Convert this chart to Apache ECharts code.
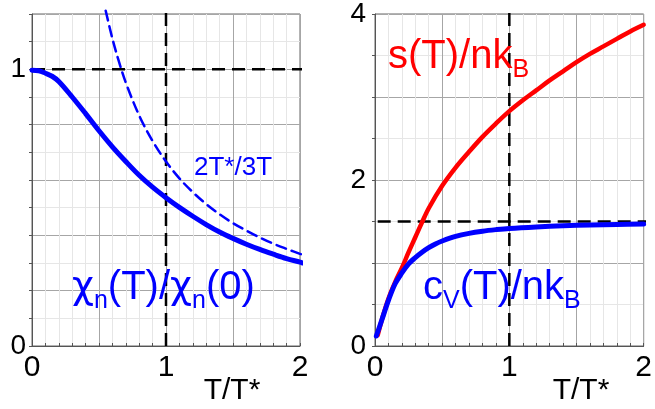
<!DOCTYPE html>
<html>
<head>
<meta charset="utf-8">
<script src="https://cdn.jsdelivr.net/npm/echarts@6/dist/echarts.min.js"></script>
<style>
  html, body { margin: 0; padding: 0; background: #fff; }
  #chart { width: 655px; height: 409px; }
</style>
</head>
<body>
<div id="chart"></div>
<script>
// Reduced temperature T/T* and the normalised susceptibility chi_n(T)/chi_n(0)
const chiT = [0, 0.05, 0.1, 0.15, 0.2, 0.3, 0.4, 0.5, 0.6, 0.7, 0.8, 0.9, 1.0, 1.1, 1.2, 1.3, 1.4, 1.5, 1.6, 1.7, 1.8, 1.9, 2.0, 2.02];
const chiV = [0.997, 0.995, 0.986, 0.975, 0.956, 0.9, 0.84, 0.778, 0.72, 0.667, 0.617, 0.574, 0.536, 0.501, 0.469, 0.439, 0.412, 0.389, 0.368, 0.349, 0.332, 0.316, 0.303, 0.300];

// High-temperature Curie tail 2T*/3T
const curieT = [0.55, 0.6, 0.65, 0.7, 0.8, 0.9, 1.0, 1.1, 1.2, 1.3, 1.4, 1.5, 1.6, 1.7, 1.8, 1.9, 2.0, 2.02];
const curieV = [1.212, 1.111, 1.026, 0.952, 0.833, 0.741, 0.667, 0.606, 0.556, 0.513, 0.476, 0.444, 0.417, 0.392, 0.370, 0.351, 0.333, 0.330];

// Entropy per particle s(T)/nk_B
const entT = [0.02, 0.05, 0.1, 0.15, 0.2, 0.25, 0.3, 0.35, 0.4, 0.5, 0.6, 0.7, 0.8, 0.9, 1.0, 1.1, 1.2, 1.3, 1.4, 1.5, 1.6, 1.7, 1.8, 1.9, 2.0];
const entV = [0.13, 0.31, 0.57, 0.77, 0.94, 1.13, 1.31, 1.49, 1.66, 1.93, 2.15, 2.34, 2.52, 2.68, 2.83, 2.96, 3.08, 3.2, 3.31, 3.42, 3.52, 3.61, 3.7, 3.79, 3.87];

// Specific heat c_V(T)/nk_B
const heatT = [0.01, 0.05, 0.1, 0.15, 0.2, 0.25, 0.3, 0.35, 0.4, 0.45, 0.5, 0.6, 0.7, 0.8, 0.9, 1.0, 1.2, 1.4, 1.6, 1.8, 2.0];
const heatV = [0.12, 0.31, 0.55, 0.75, 0.88, 0.99, 1.065, 1.13, 1.185, 1.23, 1.265, 1.32, 1.357, 1.383, 1.402, 1.417, 1.435, 1.448, 1.458, 1.465, 1.47];

// Reference guides: T = T*, chi = chi(0), classical limit c_V = 3/2
const markT = 1;
const chiRef = 1;
const heatLimit = 1.5;

// Axis tick labels
const xTickLabels = ['0', '1', '2'];
const leftTickLabels = ['0', '1'];
const rightTickLabels = ['0', '2', '4'];

const FONT = 'Liberation Sans, Arial, sans-serif';
const GREEK = 'DejaVu Sans, Liberation Sans, sans-serif';
const BLUE = '#0000ff';
const RED = '#ff0000';
const MAJOR = '#a6a6a6';
const MINOR = '#e6e6e6';

const pairs = (xs, ys) => xs.map((x, i) => [x, ys[i]]);
const pickLabels = list => v => {
  const s = String(Math.round(v * 1000) / 1000);
  return list.indexOf(s) >= 0 ? s : '';
};

function xAxisCfg(gridIndex) {
  return {
    type: 'value', gridIndex, min: 0, max: 2, interval: 0.1,
    axisLine: { show: true, onZero: false, lineStyle: { color: '#555', width: 1 } },
    axisTick: { show: true, inside: true, length: 3, interval: 0, lineStyle: { color: '#555' } },
    splitLine: { show: true, lineStyle: { color: [MAJOR, MINOR, MINOR, MINOR, MINOR], width: 1 } },
    axisLabel: { formatter: pickLabels(xTickLabels), fontSize: 30, color: '#000', margin: 7, fontFamily: FONT, interval: 0 }
  };
}

function yAxisCfg(gridIndex, max, interval, labels, margin) {
  return {
    type: 'value', gridIndex, min: 0, max, interval,
    axisLine: { show: true, lineStyle: { color: '#555', width: 1 } },
    axisTick: { show: true, inside: false, length: 3, lineStyle: { color: '#555' } },
    splitLine: { show: true, lineStyle: { color: [MAJOR, MINOR], width: 1 } },
    axisLabel: { formatter: pickLabels(labels), fontSize: 28, color: '#000', margin, fontFamily: FONT, interval: 0 }
  };
}

const guide = (idx, data) => ({
  type: 'line', xAxisIndex: idx, yAxisIndex: idx, data, clip: false,
  showSymbol: false, silent: true, z: 1,
  lineStyle: { color: '#000', width: 2.5, type: [13, 7] }
});

const curve = (idx, data, color, width, z, dash) => ({
  type: 'line', xAxisIndex: idx, yAxisIndex: idx, data, clip: false,
  smooth: 0.35, showSymbol: false, silent: true, z,
  lineStyle: { color, width, type: dash || 'solid', cap: 'round', join: 'round' }
});

// Rich-text styles for the curve captions (main glyphs, Greek letters, lowered subscripts)
const captionRich = (color, size) => ({
  m: { fontSize: size, fontFamily: FONT, fill: color, lineHeight: 46 },
  g: { fontSize: size - 2, fontFamily: GREEK, fill: color, lineHeight: 46 },
  s: { fontSize: 25, fontFamily: FONT, fill: color, lineHeight: 46, padding: [26, 0, 0, 0] }
});

const chart = echarts.init(document.getElementById('chart'), null, { renderer: 'canvas' });

chart.setOption({
  animation: false,
  backgroundColor: '#fff',
  grid: [
    { left: 32, top: 14, width: 268, height: 332, show: true, borderColor: '#666', borderWidth: 1, backgroundColor: 'transparent' },
    { left: 375, top: 14, width: 275, height: 332, show: true, borderColor: '#666', borderWidth: 1, backgroundColor: 'transparent' }
  ],
  xAxis: [xAxisCfg(0), xAxisCfg(1)],
  yAxis: [
    yAxisCfg(0, 1.2, 0.1, leftTickLabels, 6),
    yAxisCfg(1, 4, 0.5, rightTickLabels, 9)
  ],
  series: [
    guide(0, [[markT, 0], [markT, 1.213]]),
    guide(0, [[0, chiRef], [2.015, chiRef]]),
    curve(0, pairs(curieT, curieV), BLUE, 2.5, 3, [10, 6]),
    curve(0, pairs(chiT, chiV), BLUE, 5, 4),
    guide(1, [[markT, 0], [markT, 4.05]]),
    guide(1, [[0.02, heatLimit], [2.02, heatLimit]]),
    curve(1, pairs(entT, entV), RED, 4.5, 3),
    curve(1, pairs(heatT, heatV), BLUE, 5, 4)
  ],
  graphic: [
    { type: 'text', x: 232, y: 391, silent: true,
      style: { text: 'T/T*', font: '30px ' + FONT, fill: '#000', align: 'center', verticalAlign: 'middle' } },
    { type: 'text', x: 581, y: 391, silent: true,
      style: { text: 'T/T*', font: '30px ' + FONT, fill: '#000', align: 'center', verticalAlign: 'middle' } },
    { type: 'text', x: 194, y: 168, silent: true, z: 10,
      style: { text: '2T*/3T', font: '26px ' + FONT, fill: BLUE, align: 'left', verticalAlign: 'middle' } },
    { type: 'text', x: 72, y: 265, silent: true, z: 10,
      style: { text: '{g|χ}{s|n}{m|(T)/}{g|χ}{s|n}{m|(0)}', align: 'left', verticalAlign: 'top', rich: captionRich(BLUE, 40) } },
    { type: 'text', x: 388, y: 34, silent: true, z: 10,
      style: { text: '{m|s(T)/nk}{s|B}', align: 'left', verticalAlign: 'top', rich: captionRich(RED, 40) } },
    { type: 'text', x: 423, y: 265, silent: true, z: 10,
      style: { text: '{m|c}{s|V}{m|(T)/nk}{s|B}', align: 'left', verticalAlign: 'top', rich: captionRich(BLUE, 40) } }
  ]
});
</script>
</body>
</html>
